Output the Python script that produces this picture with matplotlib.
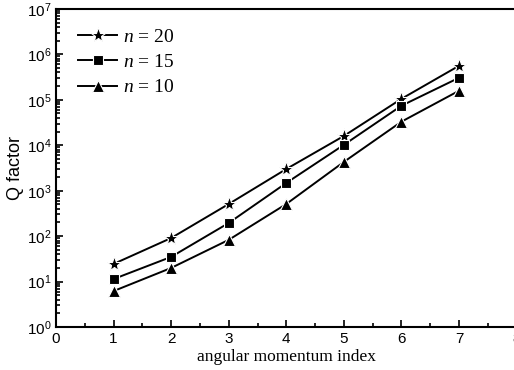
import matplotlib
matplotlib.use("Agg")
from matplotlib import pyplot as plt
from matplotlib.ticker import LogLocator, MultipleLocator, NullFormatter

# angular momentum index
l_index = [1, 2, 3, 4, 5, 6, 7]

# Q factor for each radial order n
q_n20 = [24.5, 91, 510, 3000, 16000, 105000, 560000]
q_n15 = [11.4, 35, 195, 1480, 10200, 74000, 305000]
q_n10 = [6.2, 20, 83, 510, 4300, 33000, 158000]

x_ticks = [0, 1, 2, 3, 4, 5, 6, 7, 8]

plt.rcParams["mathtext.fontset"] = "custom"
plt.rcParams["mathtext.rm"] = "Liberation Serif"
plt.rcParams["mathtext.it"] = "Liberation Serif:italic"

fig = plt.figure(figsize=(5.14, 3.70), dpi=100)
ax = fig.add_axes([0.109, 0.116, 0.896, 0.860])

serie = [(q_n20, "*", 11, r"$n$ = 20"),
         (q_n15, "s", 6.5, r"$n$ = 15"),
         (q_n10, "^", 8, r"$n$ = 10")]

for verdier, mk, ms, navn in serie:
    ax.plot(l_index, verdier, color="black", lw=1.4, marker=mk, ms=ms,
            mfc="black", mec="white", mew=0.8, label=navn)

ax.set_yscale("log")
ax.set_ylim(1, 1e7)
ax.set_xlim(0, 8)
ax.set_xticks(x_ticks)
ax.xaxis.set_minor_locator(MultipleLocator(0.5))
ax.yaxis.set_major_locator(LogLocator(base=10, numticks=10))
ax.yaxis.set_minor_locator(LogLocator(base=10, subs=range(2, 10), numticks=100))
ax.yaxis.set_minor_formatter(NullFormatter())

for side in ["top", "left", "bottom", "right"]:
    ax.spines[side].set_linewidth(1.5)

ax.tick_params(which="both", direction="in", top=False, right=False,
               labelsize=11, width=1.2)
ax.tick_params(which="major", length=5)
ax.tick_params(which="minor", length=3)
for lbl in ax.get_xticklabels() + ax.get_yticklabels():
    lbl.set_fontfamily("Liberation Sans")

ax.set_xlabel("angular momentum index", family="Liberation Serif", fontsize=12.5, labelpad=2)
ax.set_ylabel("Q factor", family="Liberation Sans", fontsize=13, labelpad=2)

leg = ax.legend(loc="upper left", frameon=False, handlelength=2.0,
                prop={"family": "Liberation Serif", "size": 14},
                bbox_to_anchor=(0.01, 0.995), labelspacing=0.4, handletextpad=0.3)

fig.savefig("out.png", dpi=100)
